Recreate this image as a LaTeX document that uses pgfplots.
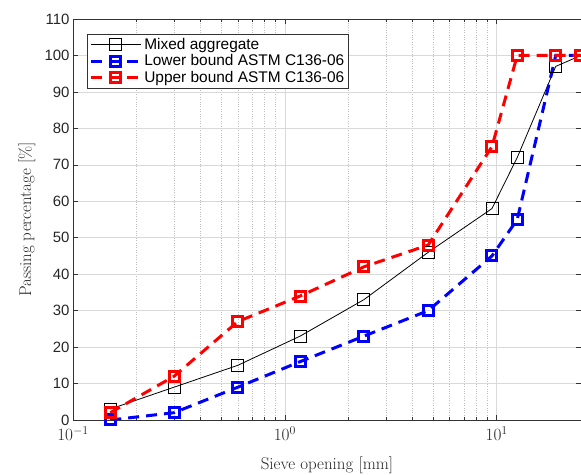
\documentclass[border=0pt]{standalone}
\usepackage{fontspec}
\setsansfont{Liberation Sans}
\usepackage{pgfplots}
\pgfplotsset{compat=1.18}
\usetikzlibrary{calc}

\begin{document}
\begin{tikzpicture}
\begin{axis}[
  name=ax, scale only axis, width=508bp, height=401bp,
  xmode=log, xmin=0.1, xmax=25, ymin=0, ymax=110,
  ytick={0,10,...,110},
  tick align=inside, major tick length=5bp, minor tick length=3bp,
  grid=both, major grid style={black!15, line width=0.6bp},
  minor grid style={black!25, dotted, line width=0.6bp},
  axis line style={black!80, line width=0.6bp},
  every tick/.style={black!80, line width=0.6bp},
  xticklabel style={font=\fontsize{18}{20}\selectfont, text=black!85, yshift=-3bp},
  yticklabel style={font=\fontsize{15}{18}\sffamily, text=black!85, /pgf/number format/assume math mode=true},
  xlabel={Sieve opening [mm]}, ylabel={Passing percentage [\%]},
  label style={font=\fontsize{17}{20}\selectfont, text=black!85},
  xlabel style={at={(axis description cs:0.5,-0.112)}, anchor=center},
  ylabel style={at={(axis description cs:-0.0906,0.5)}, anchor=center},
  legend style={at={(0.0276,0.963)}, anchor=north west, font=\fontsize{15.5}{17}\sffamily,
    draw=black!80, line width=0.6bp, row sep=0bp, inner sep=2bp},
  legend cell align=left,
  legend image code/.code={\draw[mark repeat=2, mark phase=2] plot coordinates {(0bp,0bp) (25bp,0bp) (50bp,0bp)};},
]
\addplot[black, line width=0.8bp, mark=square, mark size=6bp, mark options={solid, line width=0.8bp}] coordinates {
  (0.15,3) (0.3,9) (0.6,15) (1.18,23) (2.36,33) (4.75,46) (9.5,58) (12.5,72) (19,97) (25,100)};
\addplot[blue, line width=3bp, dash pattern=on 11bp off 7bp, mark=square, mark size=5bp, mark options={solid}] coordinates {
  (0.15,0) (0.3,2) (0.6,9) (1.18,16) (2.36,23) (4.75,30) (9.5,45) (12.5,55) (19,100) (25,100)};
\addplot[red, line width=3bp, dash pattern=on 11bp off 7bp, mark=square, mark size=5bp, mark options={solid}] coordinates {
  (0.15,2) (0.3,12) (0.6,27) (1.18,34) (2.36,42) (4.75,48) (9.5,75) (12.5,100) (19,100) (25,100)};
\legend{Mixed aggregate, Lower bound ASTM C136-06, Upper bound ASTM C136-06}
\end{axis}
\pgfresetboundingbox
\path[use as bounding box] ($(ax.south west)+(-73bp,-55bp)$) rectangle ($(ax.north east)+(0bp,19bp)$);
\end{tikzpicture}
\end{document}
